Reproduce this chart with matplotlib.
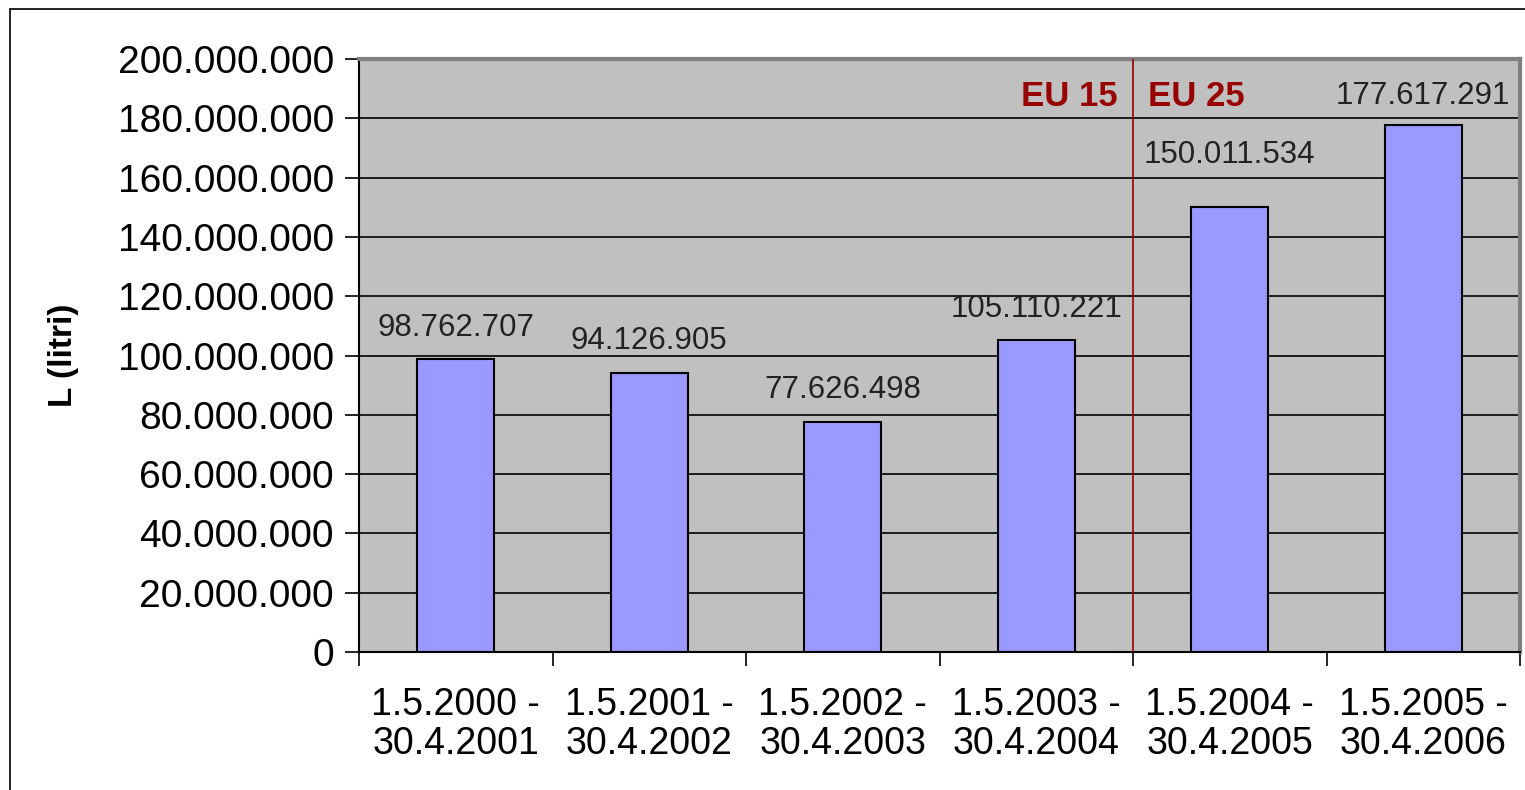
import numpy as np
from matplotlib import pyplot as plt
from matplotlib import patches, ticker

plt.rcParams["font.family"] = ["Liberation Sans", "DejaVu Sans"]

# data
periods = [
    "1.5.2000 -\n30.4.2001",
    "1.5.2001 -\n30.4.2002",
    "1.5.2002 -\n30.4.2003",
    "1.5.2003 -\n30.4.2004",
    "1.5.2004 -\n30.4.2005",
    "1.5.2005 -\n30.4.2006",
]
litres = [98762707, 94126905, 77626498, 105110221, 150011534, 177617291]
y_ticks = np.arange(0, 200000001, 20000000)
ylabel = "L (litri)"
split_labels = ["EU 15", "EU 25"]


def dotted(v):
    return f"{int(round(v)):,}".replace(",", ".")


fig = plt.figure(figsize=(15.25, 7.9), dpi=100)
ax = fig.add_axes([359 / 1525, 1 - 652 / 790, (1520 - 359) / 1525, (652 - 59) / 790])

# outer chart border (cut off on the right and bottom)
fig.patches.append(
    patches.Rectangle(
        (10 / 1525, -0.1), 1.2, 1 - 9 / 790 + 0.1,
        transform=fig.transFigure, fill=False, edgecolor="black", linewidth=1.2,
    )
)

x = np.arange(len(litres))
ax.set_facecolor("#c0c0c0")
ax.set_axisbelow(True)
ax.yaxis.grid(True, color="black", linewidth=1.2)
ax.bar(x, litres, width=0.4, color="#9999ff", edgecolor="black", linewidth=1.5, zorder=3)

ax.set_xlim(-0.5, len(litres) - 0.5)
ax.set_ylim(0, 200000000)
ax.set_yticks(y_ticks)
ax.yaxis.set_major_formatter(ticker.FuncFormatter(lambda v, p: dotted(v)))
ax.tick_params(axis="y", labelsize=28, length=10, width=1.2, pad=8)

# category boundary ticks on x, labels in the middle
ax.set_xticks(np.arange(len(litres) + 1) - 0.5)
ax.set_xticklabels([])
ax.set_xticks(x, minor=True)
ax.set_xticklabels(periods, minor=True, fontsize=27, linespacing=1.12)
ax.tick_params(axis="x", which="major", length=10, width=1.2)
ax.tick_params(axis="x", which="minor", length=0, pad=25)

for side in ["left", "bottom"]:
    ax.spines[side].set_color("black")
    ax.spines[side].set_linewidth(1.5)
for side in ["top", "right"]:
    ax.spines[side].set_color("#808080")
    ax.spines[side].set_linewidth(3)

ax.set_ylabel(ylabel, fontsize=24, fontweight="bold", labelpad=28)

# value labels
offsets = [12, 12, 12, 12, 27, 10]
for xi, v, off in zip(x, litres, offsets):
    ax.annotate(dotted(v), (xi, v), xytext=(0, off), textcoords="offset points",
                ha="center", va="bottom", fontsize=22.5, color="#222222")

# EU 15 / EU 25 divider
ax.axvline(3.5, color="#990000", linewidth=1.2, zorder=4)
ax.text(3.42, 187500000, split_labels[0], ha="right", va="center",
        fontsize=25, fontweight="bold", color="#990000")
ax.text(3.58, 187500000, split_labels[1], ha="left", va="center",
        fontsize=25, fontweight="bold", color="#990000")

fig.savefig("out.png", dpi=100)
